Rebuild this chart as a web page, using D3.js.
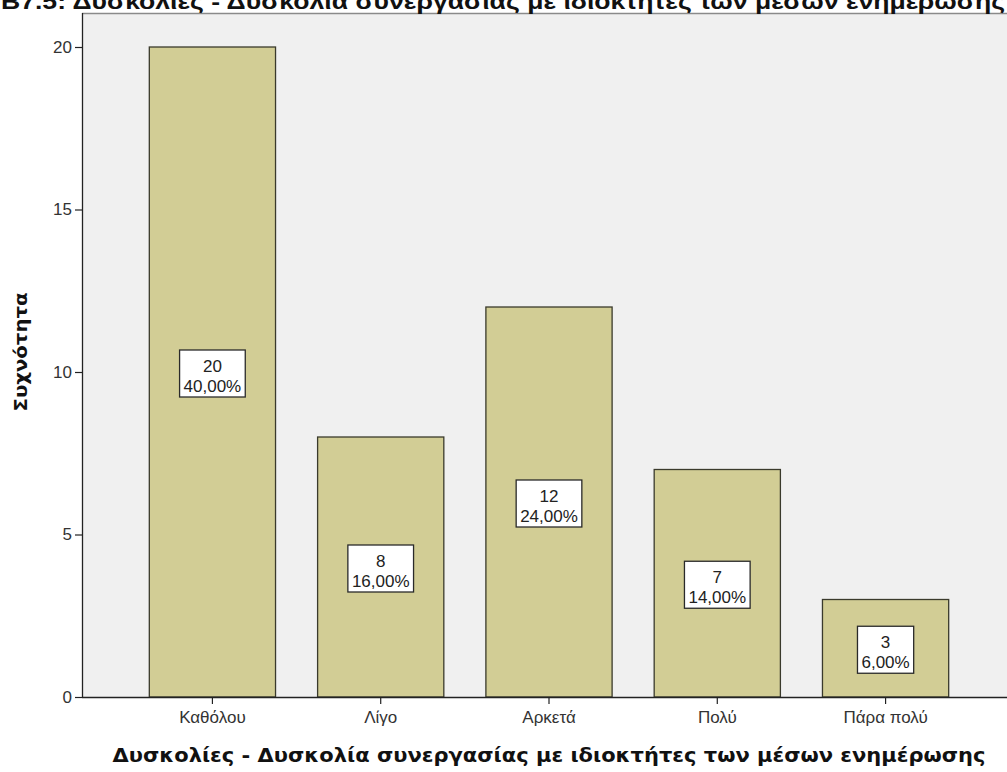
<!DOCTYPE html>
<html><head><meta charset="utf-8">
<script src="https://cdn.jsdelivr.net/npm/d3@7"></script>
<style>body{margin:0;background:#fff}svg{display:block}</style>
</head><body>
<script>
const categories = ["Καθόλου","Λίγο","Αρκετά","Πολύ","Πάρα πολύ"];
const counts = [20, 8, 12, 7, 3];
const percents = ["40,00%","16,00%","24,00%","14,00%","6,00%"];
const yTicks = [0, 5, 10, 15, 20];
const titleText = "Β7.5: Δυσκολίες - Δυσκολία συνεργασίας με ιδιοκτήτες των μέσων ενημέρωσης";
const xTitle = "Δυσκολίες - Δυσκολία συνεργασίας με ιδιοκτήτες των μέσων ενημέρωσης";
const yTitle = "Συχνότητα";

const W = 1007, H = 772;
const L = 82, R = 1016, T = 13, B = 697;
const svg = d3.select("body").append("svg").attr("width", W).attr("height", H);

svg.append("rect").attr("x", L).attr("y", T).attr("width", W - L).attr("height", B - T).attr("fill", "#f0f0f0");
svg.append("line").attr("x1", L).attr("x2", W).attr("y1", T + 0.5).attr("y2", T + 0.5).attr("stroke", "#8a8a8a").attr("stroke-width", 1.5);

const x = d3.scaleBand().domain(categories).range([L, R]).paddingInner(0.25).paddingOuter(0.4);
const y = d3.scaleLinear().domain([0, 20]).range([B, 47]);

const g = svg.append("g");
g.selectAll("rect.bar").data(categories).join("rect")
  .attr("class", "bar")
  .attr("x", d => x(d)).attr("width", x.bandwidth())
  .attr("y", (d, i) => y(counts[i])).attr("height", (d, i) => B - y(counts[i]))
  .attr("fill", "#d2cd95").attr("stroke", "#3a3a2c").attr("stroke-width", 1.3);

// axes
const yAxis = svg.append("g").attr("transform", `translate(${L},0)`)
  .call(d3.axisLeft(y).tickValues(yTicks).tickSize(7).tickPadding(3));
const xAxis = svg.append("g").attr("transform", `translate(0,${B})`)
  .call(d3.axisBottom(x).tickSize(7).tickPadding(7).tickSizeOuter(0));
[yAxis, xAxis].forEach(a => {
  a.select(".domain").attr("stroke", "#222").attr("stroke-width", 1.3);
  a.selectAll(".tick line").attr("stroke", "#222").attr("stroke-width", 1.2);
  a.selectAll("text").attr("font-family", "Liberation Sans, Arial, sans-serif").attr("font-size", 17).attr("fill", "#333");
});
xAxis.select(".domain").attr("d", `M${L},0.5H${W}`);
yAxis.select(".domain").attr("d", `M0.5,${T}V${B}`);

// value labels
const lab = svg.append("g");
categories.forEach((c, i) => {
  const cx = x(c) + x.bandwidth() / 2;
  const cy = y(counts[i] / 2);
  const gg = lab.append("g");
  const t1 = gg.append("text").attr("x", cx).attr("y", cy).text(counts[i]);
  const t2 = gg.append("text").attr("x", cx).attr("y", cy + 20).text(percents[i]);
  gg.selectAll("text").attr("text-anchor", "middle").attr("font-family", "Liberation Sans, Arial, sans-serif")
    .attr("font-size", 17).attr("fill", "#222");
  const w = Math.max(t1.node().getComputedTextLength(), t2.node().getComputedTextLength()) + 8;
  gg.insert("rect", "text").attr("x", cx - w / 2).attr("y", cy - 22).attr("width", w).attr("height", 47)
    .attr("fill", "#fff").attr("stroke", "#2a2a2a").attr("stroke-width", 1.3);
});

// titles
svg.append("text").attr("x", 503).attr("y", 9).attr("text-anchor", "middle")
  .attr("font-family", "Liberation Sans, Arial, sans-serif").attr("font-weight", "bold").attr("font-size", 22)
  .attr("textLength", 1004).attr("lengthAdjust", "spacingAndGlyphs").attr("fill", "#111").text(titleText);
svg.append("text").attr("x", 549).attr("y", 762).attr("text-anchor", "middle")
  .attr("font-family", "DejaVu Sans, Verdana, sans-serif").attr("font-weight", "bold").attr("font-size", 20)
  .attr("textLength", 873).attr("lengthAdjust", "spacingAndGlyphs").attr("fill", "#111").text(xTitle);
svg.append("text").attr("transform", "translate(27,352) rotate(-90)").attr("text-anchor", "middle")
  .attr("font-family", "DejaVu Sans, Verdana, sans-serif").attr("font-weight", "bold").attr("font-size", 18)
  .attr("textLength", 119).attr("lengthAdjust", "spacingAndGlyphs").attr("fill", "#111").text(yTitle);
</script>
</body></html>
